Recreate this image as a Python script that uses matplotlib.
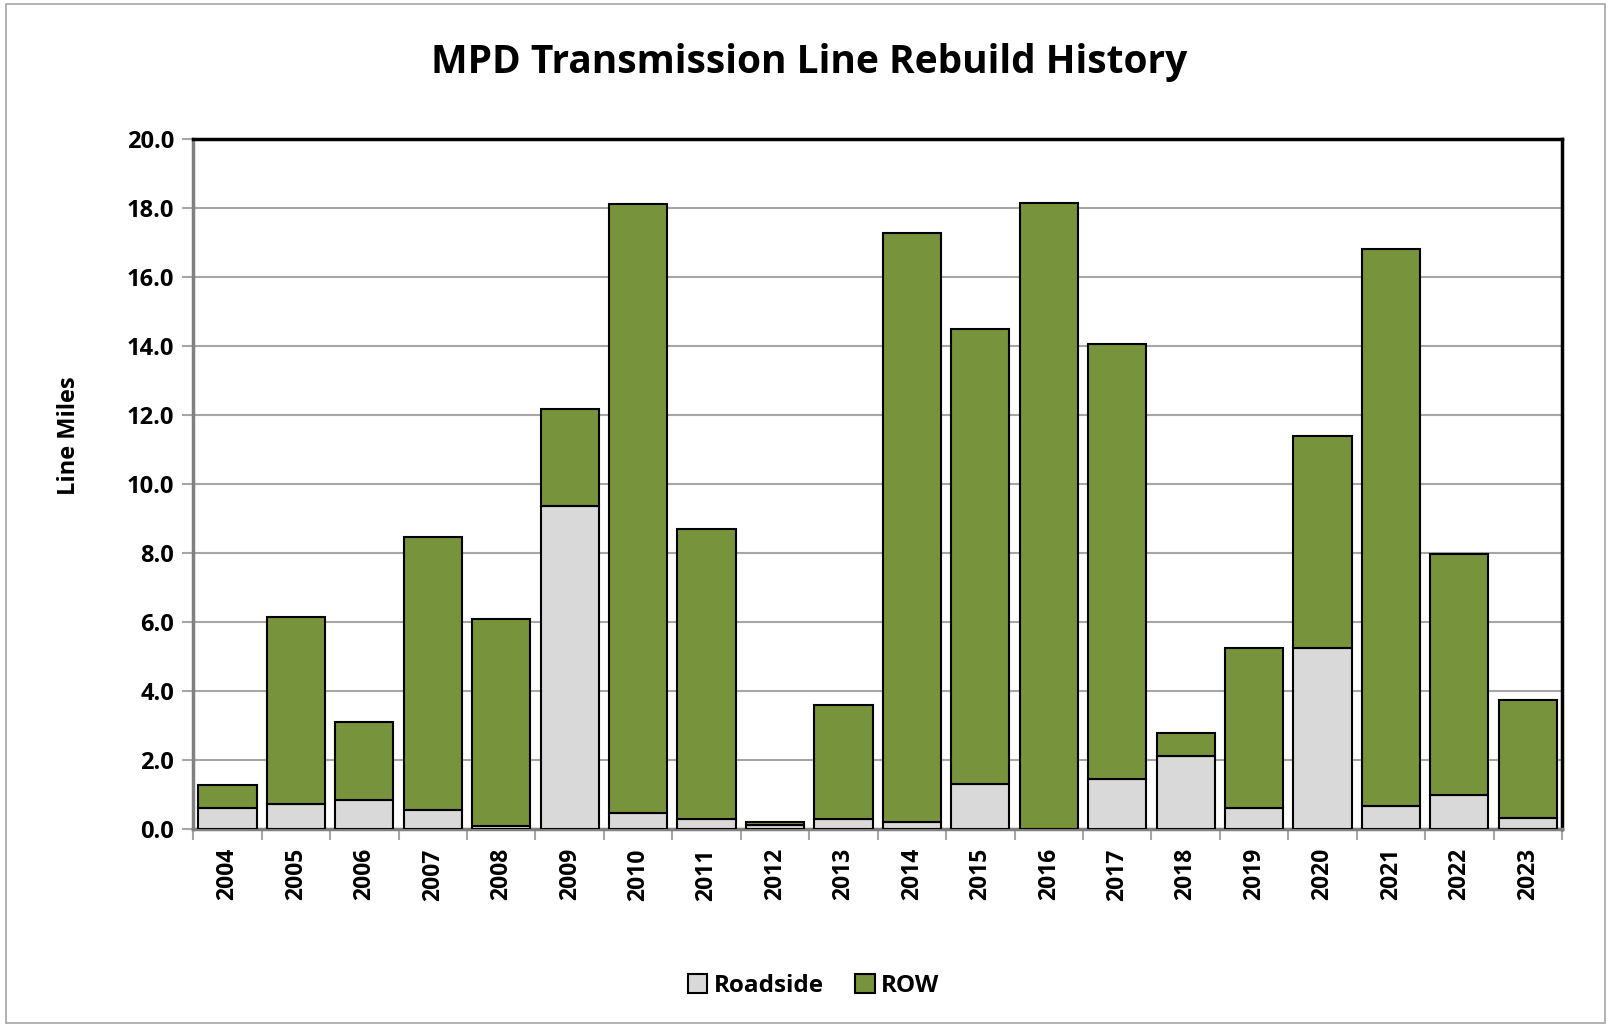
import matplotlib
matplotlib.use("Agg")
import matplotlib.pyplot as plt
import numpy as np

years = [str(y) for y in range(2004, 2024)]
roadside = [0.60, 0.71, 0.83, 0.54, 0.08, 9.35, 0.45, 0.27, 0.10, 0.27,
            0.20, 1.30, 0.00, 1.43, 2.11, 0.60, 5.24, 0.65, 0.98, 0.30]
total = [1.28, 6.13, 3.10, 8.45, 6.07, 12.17, 18.10, 8.69, 0.21, 3.60,
         17.26, 14.50, 18.15, 14.05, 2.77, 5.24, 11.40, 16.80, 7.98, 3.72]
row = [t - r for t, r in zip(total, roadside)]

plt.rcParams["font.family"] = ["Open Sans", "DejaVu Sans"]

fig = plt.figure(figsize=(16.11, 10.27), dpi=100)
ax = fig.add_axes([0.12, 0.193, 0.8496, 0.6717])

x = np.arange(len(years))
ax.bar(x, roadside, width=0.85, color="#D9D9D9", edgecolor="black", linewidth=1.5,
       label="Roadside", zorder=3)
ax.bar(x, row, bottom=roadside, width=0.85, color="#77933C", edgecolor="black",
       linewidth=1.5, label="ROW", zorder=3)

ax.set_xlim(-0.5, len(years) - 0.5)
ax.set_ylim(0, 20)
ax.set_yticks(np.arange(0, 20.1, 2))
ax.set_yticklabels([f"{v:.1f}" for v in np.arange(0, 20.1, 2)], fontsize=17, fontweight="bold")
ax.yaxis.grid(True, color="#A6A6A6", linewidth=1.5, zorder=0)
ax.set_axisbelow(True)

ax.set_xticks(x)
ax.set_xticklabels(years, rotation=90, fontsize=16.5, fontweight="bold")
ax.tick_params(axis="x", length=0, pad=14)
ax.set_xticks(np.arange(-0.5, len(years), 1), minor=True)
ax.tick_params(axis="x", which="minor", length=8, width=1.5, color="#A6A6A6", direction="out")
ax.tick_params(axis="y", length=8, width=1.5, color="#A6A6A6", direction="out", pad=6)

for s in ["top", "right"]:
    ax.spines[s].set_color("black")
    ax.spines[s].set_linewidth(2.5)
for s in ["left", "bottom"]:
    ax.spines[s].set_color("#808080")
    ax.spines[s].set_linewidth(2.5)

fig.text(0.043, 0.576, "Line Miles", rotation=90, fontsize=17, fontweight="bold",
         ha="center", va="center")

fig.suptitle("MPD Transmission Line Rebuild History", fontsize=28, fontweight="bold",
             x=0.502, y=0.958)

leg = fig.legend(loc="center", bbox_to_anchor=(0.505, 0.04), ncol=2, frameon=False,
                 prop={"size": 17.5, "weight": "bold"}, handlelength=0.8, handleheight=0.8,
                 handletextpad=0.25, columnspacing=1.3)

border = plt.Rectangle((0.004, 0.004), 0.992, 0.992, transform=fig.transFigure,
                       fill=False, edgecolor="#A6A6A6", linewidth=1.2)
fig.patches.append(border)

fig.savefig("out.png", dpi=100)
